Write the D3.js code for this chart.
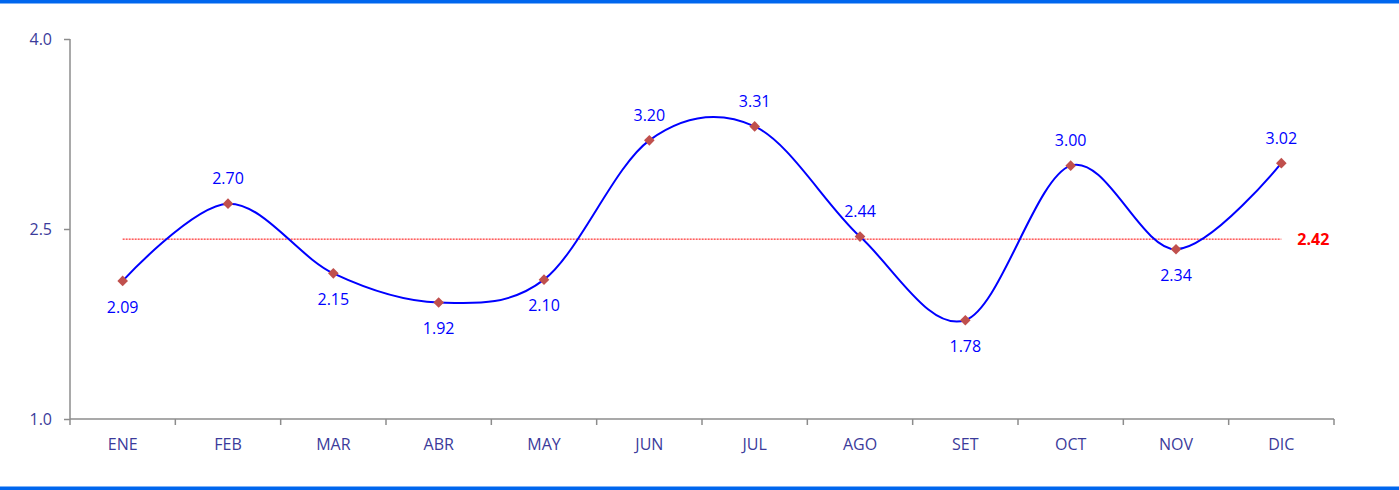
<!DOCTYPE html>
<meta charset="utf-8">
<script src="https://cdn.jsdelivr.net/npm/d3@7"></script>
<style>
body{margin:0;background:#fff;}
svg{display:block;font-family:"Open Sans",sans-serif;}
.axis text{fill:#3b3b9b;font-size:16px;font-family:"Open Sans",sans-serif;}
.axis path,.axis line{stroke:#8c8c8c;stroke-width:1.5;}
.lbl{fill:#0000ff;font-size:16px;text-anchor:middle;}
</style>
<div id="vis"></div>
<script>
// data
var months = ["ENE","FEB","MAR","ABR","MAY","JUN","JUL","AGO","SET","OCT","NOV","DIC"];
var values = [2.09,2.70,2.15,1.92,2.10,3.20,3.31,2.44,1.78,3.00,2.34,3.02];
var labelBelow = [true,false,true,true,true,false,false,false,true,false,true,false];
var average = 2.42;
var yTicks = [1.0,2.5,4.0];

var w = 1399, h = 490;
var margin = {top: 39, right: 65, bottom: 71, left: 70};
var width = w - margin.left - margin.right,
    height = h - margin.top - margin.bottom;

var svg = d3.select("#vis").append("svg")
    .attr("width", w)
    .attr("height", h);

// blue frame bars
svg.append("rect").attr("x",0).attr("y",0).attr("width",w).attr("height",3.5).attr("fill","#0066ee");
svg.append("rect").attr("x",0).attr("y",h-3.5).attr("width",w).attr("height",3.5).attr("fill","#0066ee");

var g = svg.append("g")
    .attr("transform","translate(" + margin.left + "," + margin.top + ")");

var x = d3.scaleBand().domain(months).range([0, width]);
var y = d3.scaleLinear().domain([1, 4]).range([height, 0]);
var cx = function(d, i) { return x(months[i]) + x.bandwidth()/2; };

// axes
var xAxis = g.append("g").attr("class","axis")
    .attr("transform","translate(0," + height + ")")
    .call(d3.axisBottom(x).tickSize(0).tickPadding(20));
xAxis.select(".domain").attr("d","M0,0H" + width);
// Excel style ticks between categories
xAxis.selectAll(".sep")
    .data(d3.range(months.length + 1))
  .enter().append("line")
    .attr("stroke","#8c8c8c").attr("stroke-width",1.5)
    .attr("x1", function(i) { return i * x.bandwidth(); })
    .attr("x2", function(i) { return i * x.bandwidth(); })
    .attr("y1",0).attr("y2",6);

var yAxis = g.append("g").attr("class","axis")
    .call(d3.axisLeft(y).tickValues(yTicks).tickFormat(d3.format(".1f")).tickSize(6).tickSizeOuter(0).tickPadding(12));
yAxis.select(".domain").attr("d","M0," + height + "V0");

// average line
g.append("line")
    .attr("x1", x(months[0]) + x.bandwidth()/2)
    .attr("x2", x(months[months.length-1]) + x.bandwidth()/2)
    .attr("y1", y(average)).attr("y2", y(average))
    .attr("stroke","#ff0000").attr("stroke-width",1)
    .attr("stroke-dasharray","2,1");
g.append("text")
    .attr("x", x(months[months.length-1]) + x.bandwidth()/2 + 16)
    .attr("y", y(average))
    .attr("dy","0.35em")
    .attr("fill","#ff0000")
    .style("font-size","16px").style("font-weight","bold")
    .text(average.toFixed(2));

// smoothed line
var line = d3.line()
    .x(cx)
    .y(function(d) { return y(d); })
    .curve(d3.curveCardinal.tension(0));
g.append("path")
    .datum(values)
    .attr("fill","none")
    .attr("stroke","#0000ff")
    .attr("stroke-width",2)
    .attr("d", line);

// diamond markers
g.selectAll(".mk")
    .data(values)
  .enter().append("path")
    .attr("class","mk")
    .attr("d", d3.symbol().type(d3.symbolDiamond2).size(72))
    .attr("transform", function(d, i) { return "translate(" + cx(d, i) + "," + y(d) + ")"; })
    .attr("fill","#c0504d");

// value labels
g.selectAll(".lbl")
    .data(values)
  .enter().append("text")
    .attr("class","lbl")
    .attr("x", cx)
    .attr("y", function(d, i) { return y(d) + (labelBelow[i] ? 26 : -25); })
    .attr("dy","0.35em")
    .text(function(d) { return d.toFixed(2); });
</script>
